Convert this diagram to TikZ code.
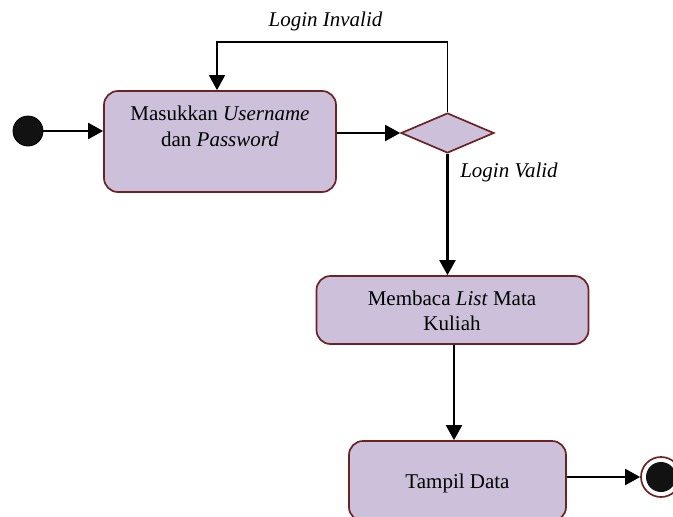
\documentclass[tikz,border=0pt]{standalone}
\usepackage{fontspec}
\setmainfont{Liberation Serif}
\usetikzlibrary{arrows.meta,shapes.geometric}
\definecolor{boxfill}{RGB}{204,192,218}
\definecolor{boxline}{RGB}{110,35,35}
\begin{document}
\begin{tikzpicture}[x=1pt,y=-1pt,
  actbox/.style={draw=boxline, fill=boxfill, line width=1.7pt, rounded corners=14pt, inner sep=0pt},
  flow/.style={line width=2.2pt, -{Triangle[length=15pt,width=16pt]}},
  thinflow/.style={line width=1.6pt, -{Triangle[length=15pt,width=16pt]}},
  lbl/.style={font=\fontsize{21}{26}\selectfont, inner sep=0pt, anchor=base},
  startnode/.style={circle, draw=black, fill=black!93, line width=0.8pt, minimum size=30pt, inner sep=0pt},
  decision/.style={diamond, draw=boxline, fill=boxfill, line width=1.7pt, minimum width=93pt, minimum height=40pt, inner sep=0pt}]
\useasboundingbox (0,0) rectangle (673,517);
\clip (0,0) rectangle (673,517);

% activity boxes
\node[actbox, minimum width=232pt, minimum height=101pt] (b1) at (220,141.5) {};
\node[actbox, minimum width=272pt, minimum height=68pt] (b2) at (452.5,310) {};
\node[actbox, minimum width=217pt, minimum height=80pt] (b3) at (457.5,481) {};

% texts
\node[lbl] (t1a) at (220,120) {Masukkan \textit{Username}};
\node[lbl] (t1b) at (220,146) {dan \textit{Password}};
\node[lbl] (t2a) at (452,305) {Membaca \textit{List} Mata};
\node[lbl] (t2b) at (452,330) {Kuliah};
\node[lbl] (t3) at (457.5,488) {Tampil Data};

% decision
\node[decision] (d) at (447.5,133) {};

% start / end
\node[startnode] (s) at (28,131) {};
\node[circle, draw=boxline, fill=white, line width=1.7pt, minimum size=40pt, inner sep=0pt] (e) at (661,477) {};
\node[circle, fill=black!93, minimum size=30pt, inner sep=0pt] (ei) at (661,477) {};

% edge labels
\node[lbl] (li) at (325.5,26) {\textit{Login Invalid}};
\node[lbl] (lv) at (509,177) {\textit{Login Valid}};

% helper coordinates
\coordinate (lt) at (217,42);
\coordinate (cx) at (454,0);

% connectors
\draw[flow] (s.east) -- (b1.west |- s.east);
\draw[flow] (b1.east |- d.west) -- (d.west);
\draw[thinflow] (d.north) |- (lt) -- (lt |- b1.north);
\draw[flow] (d.south) -- (d.south |- b2.north);
\draw[flow] (b2.south -| cx) -- (b3.north -| cx);
\draw[flow] (b3.east |- e.west) -- (e.west);
\end{tikzpicture}
\end{document}
